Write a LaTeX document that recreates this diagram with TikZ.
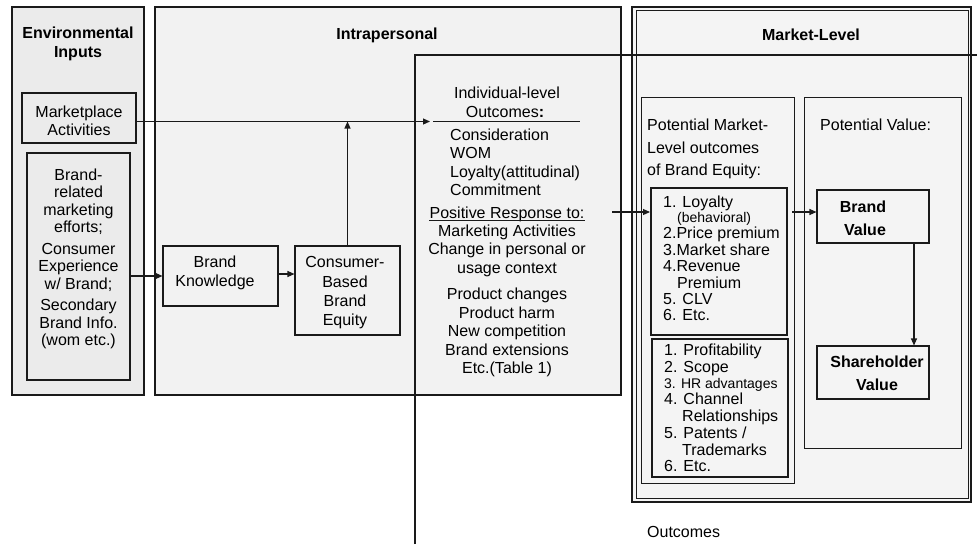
\documentclass[tikz,border=0pt]{standalone}
\usepackage{fontspec}
\setmainfont{Liberation Sans}
\usetikzlibrary{arrows.meta,calc}
\definecolor{lc}{HTML}{1A1A1A}
\definecolor{envfill}{HTML}{EBEBEB}
\definecolor{intrafill}{HTML}{F2F2F2}
\definecolor{mlfill}{HTML}{F4F4F4}
\tikzset{
 box/.style={draw=lc, line width=1.1pt, inner sep=0pt, rectangle},
 thinbox/.style={box, line width=0.9pt},
 tbox/.style={box, line width=2pt},
 t/.style={inner sep=0pt, font=\fontsize{16}{19}\selectfont, anchor=base},
 tl/.style={t, anchor=base west},
 ts/.style={inner sep=0pt, font=\fontsize{14}{16}\selectfont, anchor=base west},
 tb/.style={inner sep=0pt, font=\fontsize{16}{19}\selectfont\bfseries, anchor=base},
 arr/.style={draw=lc, line width=1.1pt, -{Triangle[length=7pt,width=6pt]}},
 ln/.style={draw=lc, line width=1.1pt},
 uln/.style={draw=lc, line width=0.8pt},
}
\begin{document}
\begin{tikzpicture}[x=1pt,y=-1pt]
\fill[white] (0,0) rectangle (977,544);
\useasboundingbox (0,0) rectangle (977,544);
% Environmental inputs
\node[box, fill=envfill, minimum width=132pt, minimum height=388pt] (env) at (78,201) {};
\node[tb] (envt1) at (78,38.5) {Environmental};
\node[tb] (envt2) at (78,57) {Inputs};
\node[box, fill=envfill, minimum width=114pt, minimum height=50pt] (mkt) at (79,118) {};
\node[t] (mkt1) at (79,117.5) {Marketplace};
\node[t] (mkt2) at (79,135.5) {Activities};
\node[box, fill=envfill, minimum width=103pt, minimum height=227pt] (brel) at (78.5,266.5) {};
\node[t] (br1) at (78.5,180) {Brand-};
\node[t] (br2) at (78.5,197.5) {related};
\node[t] (br3) at (78.5,215) {marketing};
\node[t] (br4) at (78.5,232.5) {efforts;};
\node[t] (br5) at (78.5,254.3) {Consumer};
\node[t] (br6) at (78.5,271.8) {Experience};
\node[t] (br7) at (78.5,289.3) {w/ Brand;};
\node[t] (br8) at (78.5,310.5) {Secondary};
\node[t] (br9) at (78.5,328) {Brand Info.};
\node[t] (br10) at (78.5,345.5) {(wom etc.)};
% Intrapersonal
\node[box, fill=intrafill, minimum width=466pt, minimum height=388pt] (intra) at (388,201) {};
\node[tb] (intrat) at (387,39.5) {Intrapersonal};
\node[box, fill=intrafill, minimum width=115pt, minimum height=60pt] (bk) at (220.5,276) {};
\node[t] (bk1) at (215,267.5) {Brand};
\node[t] (bk2) at (215,286) {Knowledge};
\node[box, fill=intrafill, minimum width=105pt, minimum height=89pt] (cbbe) at (347.5,290.5) {};
\node[t] (cb1) at (345,267.5) {Consumer-};
\node[t] (cb2) at (345,287) {Based};
\node[t] (cb3) at (345,306) {Brand};
\node[t] (cb4) at (345,325) {Equity};
% individual-level outcomes text
\node[t] (io1) at (507,98) {Individual-level};
\node[t] (io2) at (505,117) {Outcomes\textbf{:}};
\node[tl] (io3) at (450,140) {Consideration};
\node[tl] (io4) at (450,158.5) {WOM};
\node[tl] (io5) at (450,177) {Loyalty(attitudinal)};
\node[tl] (io6) at (450,195.5) {Commitment};
\node[t] (io7) at (507,218) {Positive Response to:};
\draw[uln] ([yshift=-2.5pt]io7.base west) -- ([yshift=-2.5pt]io7.base east);
\node[t] (io8) at (507,236.3) {Marketing Activities};
\node[t] (io9) at (507,254.6) {Change in personal or};
\node[t] (io10) at (507,273) {usage context};
\node[t] (io11) at (507,299.5) {Product changes};
\node[t] (io12) at (507,318) {Product harm};
\node[t] (io13) at (507,336.5) {New competition};
\node[t] (io14) at (507,355) {Brand extensions};
\node[t] (io15) at (507,373.5) {Etc.(Table 1)};
% Market level
\node[box, line width=2pt, fill=mlfill, minimum width=339pt, minimum height=495pt] (ml) at (801.5,254.5) {};
\node[box, line width=0.8pt, minimum width=332pt, minimum height=488pt] (mlin) at (802,254) {};
\node[tb] (mlt) at (811,40) {Market-Level};
\node[thinbox, fill=mlfill, minimum width=153pt, minimum height=386pt] (pmo) at (717.5,290) {};
\node[tl] (pm1) at (647,130.5) {Potential Market-};
\node[tl] (pm2) at (647,153) {Level outcomes};
\node[tl] (pm3) at (647,175.5) {of Brand Equity:};
\node[tbox, fill=mlfill, minimum width=136pt, minimum height=147pt] (loy) at (719,261.5) {};
\node[tl] (l1) at (663,207) {1. Loyalty};
\node[ts] (l2) at (677,222) {(behavioral)};
\node[tl] (l3) at (663,238) {2.Price premium};
\node[tl] (l4) at (663,255) {3.Market share};
\node[tl] (l5) at (663,271.5) {4.Revenue};
\node[tl] (l6) at (677,288) {Premium};
\node[tl] (l7) at (663,304.5) {5. CLV};
\node[tl] (l8) at (663,320.5) {6. Etc.};
\node[tbox, fill=mlfill, minimum width=136pt, minimum height=138pt] (prof) at (720,408) {};
\node[tl] (p1) at (664,355) {1. Profitability};
\node[tl] (p2) at (664,372.5) {2. Scope};
\node[ts] (p3) at (664,388.5) {3. HR advantages};
\node[tl] (p4) at (664,404) {4. Channel};
\node[tl] (p5) at (682,421.5) {Relationships};
\node[tl] (p6) at (664,438.5) {5. Patents /};
\node[tl] (p7) at (682,455.5) {Trademarks};
\node[tl] (p8) at (664,471) {6. Etc.};
\node[thinbox, fill=mlfill, minimum width=157pt, minimum height=351pt] (pv) at (882.5,272.5) {};
\node[tl] (pvt) at (820,130.5) {Potential Value:};
\node[box, fill=mlfill, minimum width=112pt, minimum height=53pt] (bv) at (873,216.5) {};
\node[tb] (bv1) at (863,212) {Brand};
\node[tb] (bv2) at (865,235) {Value};
\node[box, fill=mlfill, minimum width=112pt, minimum height=53pt] (sv) at (873,372.5) {};
\node[tb] (sv1) at (877,367) {Shareholder};
\node[tb] (sv2) at (877,390) {Value};
\node[tl] (outc) at (647,537) {Outcomes};
% connectors
\coordinate (oc) at (430,121.5);
\draw[arr] (mkt.east |- oc) -- (oc);
\coordinate (ul1) at (433,121.5);
\coordinate (ul2) at (580,121.5);
\draw[ln] (ul1) -- (ul2);
\draw[arr] (cbbe.north) -- (cbbe.north |- oc);
\draw[arr] (brel.east |- bk.west) -- (bk.west);
\draw[arr] ([yshift=2pt]bk.east) -- ([yshift=2pt]bk.east -| cbbe.west);
\coordinate (pr) at (612,212);
\draw[arr] (pr) -- (pr -| loy.west);
\coordinate (lv) at (792,212);
\draw[arr] (lv) -- (lv -| bv.west);
\draw[arr] ([xshift=41pt]bv.south) -- ([xshift=41pt]sv.north);
\coordinate (f1) at (415,544);
\coordinate (f2) at (415,55);
\coordinate (f3) at (977,55);
\draw[ln] (f1) -- (f2) -- (f3);
\end{tikzpicture}
\end{document}
